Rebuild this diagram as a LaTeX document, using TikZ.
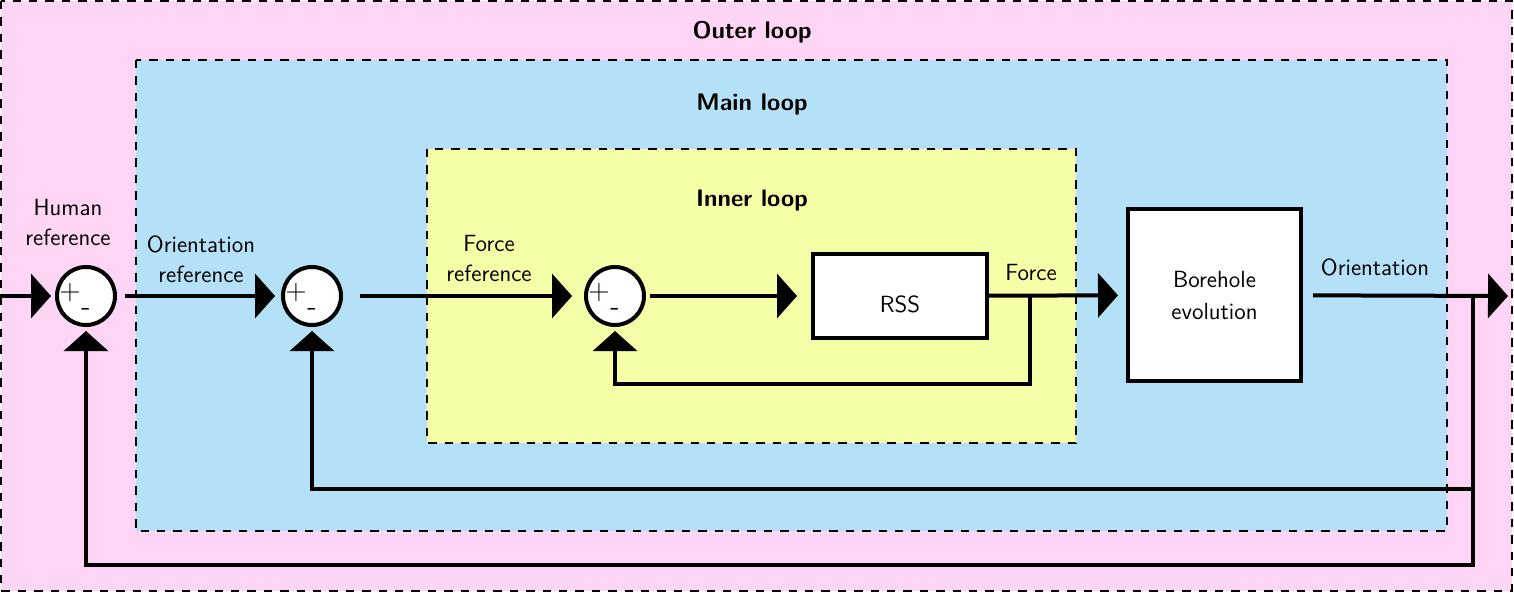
\documentclass[tikz,border=0pt]{standalone}
\usetikzlibrary{arrows.meta}
\definecolor{outerpink}{RGB}{255,213,245}
\definecolor{mainblue}{RGB}{180,225,247}
\definecolor{inneryellow}{RGB}{245,253,166}
\begin{document}
\begin{tikzpicture}[x=0.5pt,y=-0.5pt,
  font=\sffamily\fontsize{11.7}{15}\selectfont,
  loopbox/.style={draw=black,dash pattern=on 4.2pt off 4pt,line width=1pt},
  looptitle/.style={font=\sffamily\bfseries\fontsize{12}{15}\selectfont},
  sumnode/.style={circle,draw=black,fill=white,line width=2pt,minimum size=29pt,inner sep=0pt},
  blockbox/.style={draw=black,fill=white,line width=2pt,inner sep=0pt,align=center},
  sig/.style={line width=2pt,-{Triangle[length=10pt,width=22pt]}},
  fb/.style={line width=1.6pt,-{Triangle[length=10pt,width=22pt]}},
  lbl/.style={align=center,inner sep=0pt},
  pm/.style={inner sep=0pt,font=\sffamily\fontsize{14}{16}\selectfont}
]
\useasboundingbox (0,0) rectangle (1514,593);
% loop regions
\draw[loopbox,fill=outerpink] (1,1) rectangle (1512,591);
\draw[loopbox,fill=mainblue] (136,60) rectangle (1447,531);
\draw[loopbox,fill=inneryellow] (427,149) rectangle (1076,443);
\node[looptitle] (tOuter) at (752,32) {Outer loop};
\node[looptitle] (tMain) at (752,105) {Main loop};
\node[looptitle] (tInner) at (752,200) {Inner loop};

% summing junctions
\node[sumnode] (s1) at (86,296) {};
\node[sumnode] (s2) at (312,296) {};
\node[sumnode] (s3) at (615,296) {};
\foreach \s in {s1,s2,s3}{
  \node[pm] at ([xshift=-8pt,yshift=1.5pt]\s.center) {+};
  \node[pm] at ([xshift=0pt,yshift=-8pt]\s.center) {-};
}

% blocks
\node[blockbox,minimum width=87pt,minimum height=42pt,
      label={[yshift=-4pt]center:RSS}] (rss) at (900,296) {};
\node[blockbox,minimum width=86.5pt,minimum height=86pt] (bore) at (1214.5,295) {Borehole\\[1pt]evolution};

% coordinates
\coordinate (in) at (0,296);
\coordinate (c2) at (360,296);
\coordinate (out) at (1508,296);
\coordinate (tapF) at (1030,296);
\coordinate (tapO) at (1473,296);
\coordinate (fF1) at (1030,384);
\coordinate (fF2) at (615,384);
\coordinate (fO1) at (1473,489);
\coordinate (fO2) at (312,489);
\coordinate (fH1) at (1473,565);
\coordinate (fH2) at (86,565);

% forward path
\draw[sig,shorten >=2pt] (in) -- (s1);
\draw[sig,shorten <=4pt,shorten >=3pt] (s1) -- (s2);
\draw[sig,shorten >=6pt] (c2) -- (s3);
\draw[sig,shorten <=2pt,shorten >=7pt] (s3) -- (rss);
\draw[sig,shorten >=4pt] (rss) -- (bore);
\draw[sig,shorten <=5pt] (bore) -- (out);

% feedback paths
\draw[fb,shorten >=2pt] (tapF) -- (fF1) -- (fF2) -- (s3);
\draw[fb,shorten >=2pt] (tapO) -- (fO1) -- (fO2) -- (s2);
\draw[fb,shorten >=2pt] (fO1) -- (fH1) -- (fH2) -- (s1);

% signal labels
\node[lbl] (lHuman) at (68,222) {Human\\reference};
\node[lbl] (lOri) at (201,259) {Orientation\\reference};
\node[lbl] (lForce) at (489,259) {Force\\reference};
\node[lbl] (lF) at (1031,273) {Force};
\node[lbl] (lO) at (1375,267) {Orientation};
\end{tikzpicture}
\end{document}
